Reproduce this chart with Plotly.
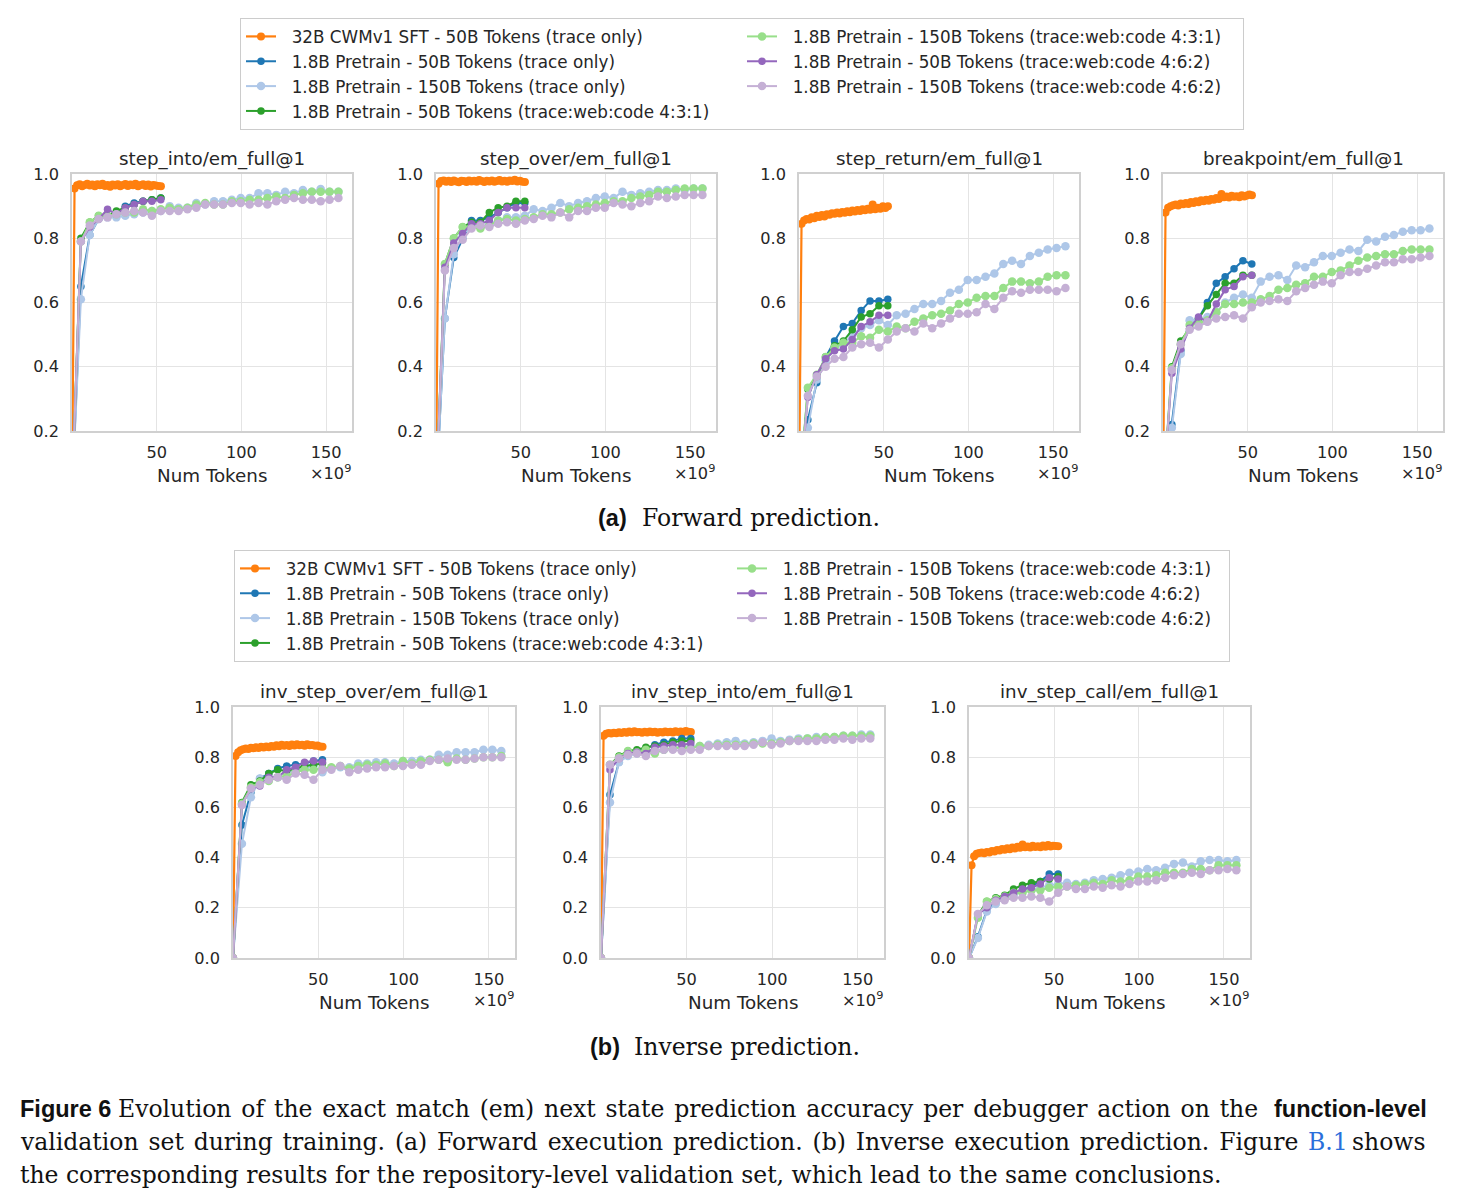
import plotly.graph_objects as go

W, H = 1469, 1204

# ---------------- data ----------------
SERIES_NAMES = [
    "32B CWMv1 SFT - 50B Tokens (trace only)",
    "1.8B Pretrain - 50B Tokens (trace only)",
    "1.8B Pretrain - 150B Tokens (trace only)",
    "1.8B Pretrain - 50B Tokens (trace:web:code 4:3:1)",
    "1.8B Pretrain - 150B Tokens (trace:web:code 4:3:1)",
    "1.8B Pretrain - 50B Tokens (trace:web:code 4:6:2)",
    "1.8B Pretrain - 150B Tokens (trace:web:code 4:6:2)",
]
SERIES_COLORS = ["#ff7f0e", "#1f77b4", "#aec7e8", "#2ca02c", "#98df8a", "#9467bd", "#c5b0d5"]

X_ORANGE = [0, 1.5, 3.0, 4.5, 6.0, 7.5, 9.0, 10.5, 12.0, 13.5, 15.0, 16.5, 18.0, 19.5, 21.0, 22.5,
            24.0, 25.5, 27.0, 28.5, 30.0, 31.5, 33.0, 34.5, 36.0, 37.5, 39.0, 40.5, 42.0, 43.5,
            45.0, 46.5, 48.0, 49.5, 51.0, 52.5]
X_50B = [0, 5.24, 10.49, 15.73, 20.97, 26.21, 31.46, 36.70, 41.94, 47.19, 52.43]
X_150B = [0, 5.24, 10.49, 15.73, 20.97, 26.21, 31.46, 36.70, 41.94, 47.19, 52.43, 57.67, 62.91,
          68.16, 73.40, 78.64, 83.89, 89.13, 94.37, 99.61, 104.86, 110.10, 115.34, 120.59,
          125.83, 131.07, 136.31, 141.56, 146.80, 152.04, 157.29]

# step_into
SI_OR = [0.0, 0.955, 0.965, 0.968, 0.962, 0.966, 0.970, 0.964, 0.967, 0.962, 0.968, 0.965, 0.970, 0.963, 0.966, 0.960,
         0.967, 0.964, 0.968, 0.962, 0.966, 0.969, 0.963, 0.967, 0.965, 0.970, 0.962, 0.966, 0.968, 0.963,
         0.967, 0.961, 0.966, 0.964, 0.963, 0.962]
SI_B50 = [0.0, 0.65, 0.81, 0.86, 0.87, 0.875, 0.90, 0.91, 0.915, 0.92, 0.925]
SI_G50 = [0.0, 0.80, 0.85, 0.87, 0.87, 0.885, 0.895, 0.905, 0.915, 0.92, 0.925]
SI_P50 = [0.0, 0.79, 0.835, 0.86, 0.89, 0.875, 0.895, 0.905, 0.915, 0.915, 0.92]
SI_LB150 = [0.0, 0.61, 0.81, 0.86, 0.865, 0.865, 0.87, 0.875, 0.88, 0.885, 0.885, 0.90, 0.895, 0.895, 0.91, 0.905,
            0.915, 0.915, 0.92, 0.925, 0.925, 0.94, 0.94, 0.935, 0.945, 0.94, 0.95, 0.945, 0.953, 0.945, 0.945]
SI_LG150 = [0.0, 0.79, 0.85, 0.87, 0.87, 0.875, 0.88, 0.88, 0.89, 0.885, 0.89, 0.895, 0.89, 0.895, 0.905, 0.91,
            0.905, 0.905, 0.915, 0.915, 0.92, 0.92, 0.925, 0.93, 0.925, 0.935, 0.94, 0.945, 0.945, 0.945, 0.945]
SI_LP150 = [0.0, 0.79, 0.84, 0.86, 0.865, 0.875, 0.88, 0.885, 0.88, 0.87, 0.885, 0.885, 0.885, 0.89, 0.895, 0.905,
            0.905, 0.905, 0.91, 0.91, 0.905, 0.91, 0.905, 0.915, 0.92, 0.925, 0.92, 0.92, 0.915, 0.92, 0.925]

# step_over
SO_OR = [0.0, 0.970, 0.978, 0.980, 0.976, 0.979, 0.975, 0.980, 0.977, 0.974, 0.979, 0.978, 0.975, 0.980, 0.977, 0.979,
         0.976, 0.981, 0.978, 0.975, 0.979, 0.977, 0.980, 0.976, 0.978, 0.981, 0.977, 0.979, 0.976, 0.980,
         0.978, 0.982, 0.977, 0.979, 0.976, 0.975]
SO_B50 = [0.0, 0.55, 0.74, 0.80, 0.855, 0.855, 0.865, 0.88, 0.895, 0.91, 0.91]
SO_G50 = [0.0, 0.72, 0.80, 0.835, 0.85, 0.85, 0.88, 0.895, 0.90, 0.915, 0.915]
SO_P50 = [0.0, 0.71, 0.785, 0.815, 0.845, 0.845, 0.855, 0.88, 0.895, 0.895, 0.895]
SO_LB150 = [0.0, 0.55, 0.75, 0.81, 0.84, 0.835, 0.845, 0.855, 0.865, 0.865, 0.87, 0.89, 0.885, 0.895, 0.91, 0.90,
            0.91, 0.915, 0.925, 0.93, 0.925, 0.945, 0.935, 0.94, 0.945, 0.95, 0.95, 0.955, 0.95, 0.955, 0.955]
SO_LG150 = [0.0, 0.72, 0.80, 0.835, 0.835, 0.83, 0.84, 0.855, 0.86, 0.855, 0.86, 0.865, 0.875, 0.875, 0.88, 0.89,
            0.895, 0.90, 0.905, 0.91, 0.915, 0.915, 0.925, 0.93, 0.935, 0.945, 0.945, 0.95, 0.955, 0.955, 0.955]
SO_LP150 = [0.0, 0.70, 0.77, 0.795, 0.83, 0.84, 0.835, 0.845, 0.85, 0.845, 0.855, 0.86, 0.87, 0.865, 0.88, 0.865,
            0.885, 0.885, 0.895, 0.895, 0.91, 0.905, 0.90, 0.91, 0.915, 0.93, 0.925, 0.93, 0.935, 0.935, 0.935]

# step_return
SR_OR = [0.0, 0.845, 0.855, 0.860, 0.858, 0.865, 0.862, 0.870, 0.866, 0.872, 0.868, 0.875, 0.873, 0.878, 0.876, 0.880,
         0.877, 0.882, 0.879, 0.884, 0.881, 0.886, 0.883, 0.888, 0.885, 0.890, 0.887, 0.892, 0.889, 0.905,
         0.890, 0.895, 0.892, 0.900, 0.894, 0.900]
SR_B50 = [0.0, 0.235, 0.35, 0.43, 0.48, 0.525, 0.535, 0.575, 0.605, 0.605, 0.61]
SR_G50 = [0.0, 0.33, 0.37, 0.43, 0.465, 0.48, 0.515, 0.555, 0.565, 0.59, 0.59]
SR_P50 = [0.0, 0.305, 0.375, 0.425, 0.45, 0.455, 0.485, 0.525, 0.54, 0.56, 0.56]
SR_LB150 = [0.0, 0.21, 0.36, 0.42, 0.455, 0.47, 0.50, 0.52, 0.53, 0.545, 0.53, 0.56, 0.565, 0.58, 0.595, 0.595,
            0.605, 0.63, 0.64, 0.67, 0.67, 0.68, 0.69, 0.72, 0.73, 0.72, 0.745, 0.755, 0.765, 0.77, 0.775]
SR_LG150 = [0.0, 0.335, 0.375, 0.43, 0.46, 0.475, 0.475, 0.495, 0.49, 0.515, 0.51, 0.525, 0.52, 0.54, 0.55, 0.56,
            0.565, 0.575, 0.595, 0.60, 0.615, 0.62, 0.62, 0.645, 0.665, 0.665, 0.66, 0.665, 0.68, 0.685, 0.685]
SR_LP150 = [0.0, 0.31, 0.37, 0.40, 0.425, 0.43, 0.46, 0.47, 0.475, 0.46, 0.485, 0.51, 0.52, 0.51, 0.535, 0.52,
            0.535, 0.55, 0.565, 0.565, 0.57, 0.595, 0.58, 0.615, 0.635, 0.63, 0.64, 0.64, 0.64, 0.635, 0.645]

# breakpoint
BP_OR = [0.0, 0.880, 0.895, 0.900, 0.903, 0.905, 0.902, 0.908, 0.906, 0.910, 0.907, 0.913, 0.910, 0.915, 0.912, 0.918,
         0.915, 0.920, 0.917, 0.922, 0.920, 0.925, 0.922, 0.938, 0.928, 0.930, 0.927, 0.932, 0.929, 0.931,
         0.928, 0.934, 0.930, 0.933, 0.936, 0.934]
BP_B50 = [0.0, 0.22, 0.45, 0.54, 0.55, 0.60, 0.66, 0.68, 0.705, 0.73, 0.72]
BP_G50 = [0.0, 0.40, 0.48, 0.52, 0.55, 0.59, 0.625, 0.66, 0.66, 0.685, 0.685]
BP_P50 = [0.0, 0.38, 0.455, 0.52, 0.555, 0.54, 0.595, 0.64, 0.65, 0.68, 0.685]
BP_LB150 = [0.0, 0.21, 0.44, 0.545, 0.545, 0.555, 0.57, 0.60, 0.615, 0.625, 0.615, 0.665, 0.68, 0.685, 0.67, 0.715,
            0.71, 0.725, 0.745, 0.745, 0.755, 0.765, 0.76, 0.795, 0.79, 0.805, 0.81, 0.82, 0.825, 0.825, 0.83]
BP_LG150 = [0.0, 0.395, 0.47, 0.53, 0.535, 0.545, 0.57, 0.595, 0.595, 0.60, 0.60, 0.61, 0.62, 0.64, 0.645, 0.655,
            0.66, 0.68, 0.68, 0.695, 0.70, 0.715, 0.73, 0.74, 0.745, 0.75, 0.75, 0.76, 0.765, 0.765, 0.765]
BP_LP150 = [0.0, 0.39, 0.47, 0.515, 0.525, 0.54, 0.55, 0.555, 0.56, 0.55, 0.585, 0.60, 0.605, 0.61, 0.605, 0.635,
            0.645, 0.655, 0.665, 0.66, 0.685, 0.695, 0.695, 0.705, 0.715, 0.725, 0.725, 0.735, 0.735, 0.74, 0.745]

# inv_step_over
IO_OR = [0.0, 0.805, 0.820, 0.828, 0.832, 0.835, 0.833, 0.838, 0.836, 0.840, 0.837, 0.842, 0.839, 0.843, 0.840, 0.845,
         0.842, 0.848, 0.844, 0.850, 0.846, 0.849, 0.845, 0.851, 0.847, 0.852, 0.848, 0.850, 0.846, 0.852,
         0.848, 0.849, 0.846, 0.847, 0.843, 0.842]
IO_B50 = [0.0, 0.53, 0.66, 0.715, 0.735, 0.755, 0.765, 0.77, 0.775, 0.785, 0.79]
IO_G50 = [0.0, 0.62, 0.69, 0.705, 0.735, 0.75, 0.745, 0.755, 0.765, 0.77, 0.775]
IO_P50 = [0.0, 0.61, 0.675, 0.685, 0.72, 0.72, 0.75, 0.76, 0.78, 0.785, 0.78]
IO_LB150 = [0.0, 0.455, 0.64, 0.715, 0.715, 0.72, 0.745, 0.745, 0.755, 0.765, 0.74, 0.755, 0.76, 0.76, 0.775, 0.775,
            0.78, 0.78, 0.775, 0.785, 0.785, 0.79, 0.79, 0.81, 0.81, 0.82, 0.82, 0.82, 0.83, 0.83, 0.825]
IO_LG150 = [0.0, 0.615, 0.68, 0.70, 0.705, 0.72, 0.725, 0.74, 0.75, 0.75, 0.755, 0.76, 0.765, 0.755, 0.765, 0.77,
            0.77, 0.775, 0.765, 0.785, 0.775, 0.785, 0.79, 0.79, 0.78, 0.795, 0.79, 0.795, 0.80, 0.80, 0.805]
IO_LP150 = [0.0, 0.61, 0.675, 0.69, 0.71, 0.72, 0.71, 0.735, 0.73, 0.71, 0.75, 0.75, 0.765, 0.74, 0.75, 0.755,
            0.76, 0.76, 0.765, 0.765, 0.77, 0.77, 0.785, 0.79, 0.795, 0.79, 0.79, 0.795, 0.80, 0.80, 0.80]

# inv_step_into
II_OR = [0.0, 0.885, 0.893, 0.896, 0.894, 0.897, 0.895, 0.899, 0.896, 0.900, 0.897, 0.902, 0.898, 0.903, 0.899, 0.900,
         0.897, 0.901, 0.898, 0.902, 0.899, 0.901, 0.897, 0.900, 0.898, 0.902, 0.899, 0.901, 0.898, 0.903,
         0.900, 0.902, 0.899, 0.904, 0.901, 0.900]
II_B50 = [0.0, 0.65, 0.78, 0.81, 0.825, 0.835, 0.85, 0.86, 0.865, 0.875, 0.875]
II_G50 = [0.0, 0.77, 0.805, 0.825, 0.83, 0.84, 0.845, 0.85, 0.86, 0.865, 0.865]
II_P50 = [0.0, 0.75, 0.795, 0.815, 0.82, 0.815, 0.84, 0.845, 0.85, 0.85, 0.855]
II_LB150 = [0.0, 0.62, 0.78, 0.805, 0.815, 0.825, 0.825, 0.83, 0.835, 0.84, 0.84, 0.845, 0.85, 0.855, 0.86, 0.865,
            0.855, 0.86, 0.865, 0.875, 0.865, 0.87, 0.875, 0.875, 0.88, 0.88, 0.88, 0.885, 0.885, 0.89, 0.89]
II_LG150 = [0.0, 0.77, 0.80, 0.825, 0.82, 0.83, 0.815, 0.83, 0.835, 0.84, 0.835, 0.845, 0.845, 0.85, 0.85, 0.85,
            0.85, 0.855, 0.855, 0.855, 0.86, 0.865, 0.87, 0.875, 0.875, 0.88, 0.88, 0.885, 0.885, 0.885, 0.885]
II_LP150 = [0.0, 0.77, 0.795, 0.81, 0.815, 0.805, 0.825, 0.83, 0.83, 0.825, 0.83, 0.83, 0.845, 0.845, 0.845, 0.845,
            0.845, 0.85, 0.86, 0.85, 0.855, 0.865, 0.865, 0.865, 0.865, 0.87, 0.87, 0.875, 0.87, 0.875, 0.875]

# inv_step_call
IC_OR = [0.0, 0.370, 0.405, 0.415, 0.418, 0.420, 0.417, 0.422, 0.420, 0.426, 0.424, 0.430, 0.428, 0.434, 0.431, 0.437,
         0.433, 0.440, 0.436, 0.443, 0.439, 0.452, 0.441, 0.444, 0.440, 0.447, 0.442, 0.445, 0.441, 0.448,
         0.443, 0.450, 0.444, 0.447, 0.446, 0.445]
IC_B50 = [0.0, 0.085, 0.19, 0.22, 0.24, 0.26, 0.27, 0.285, 0.305, 0.335, 0.335]
IC_G50 = [0.0, 0.17, 0.225, 0.24, 0.25, 0.275, 0.29, 0.30, 0.305, 0.315, 0.325]
IC_P50 = [0.0, 0.175, 0.20, 0.23, 0.245, 0.26, 0.275, 0.28, 0.295, 0.32, 0.315]
IC_LB150 = [0.0, 0.08, 0.185, 0.215, 0.24, 0.25, 0.265, 0.27, 0.28, 0.29, 0.295, 0.30, 0.295, 0.30, 0.31, 0.315,
            0.32, 0.33, 0.34, 0.345, 0.355, 0.35, 0.36, 0.375, 0.38, 0.365, 0.385, 0.39, 0.39, 0.385, 0.39]
IC_LG150 = [0.0, 0.16, 0.225, 0.235, 0.245, 0.26, 0.26, 0.27, 0.27, 0.28, 0.285, 0.285, 0.29, 0.295, 0.30, 0.295,
            0.31, 0.305, 0.31, 0.325, 0.325, 0.33, 0.34, 0.34, 0.34, 0.355, 0.355, 0.35, 0.37, 0.37, 0.37]
IC_LP150 = [0.0, 0.175, 0.21, 0.225, 0.23, 0.24, 0.24, 0.245, 0.24, 0.225, 0.26, 0.285, 0.275, 0.275, 0.285, 0.28,
            0.29, 0.285, 0.295, 0.305, 0.305, 0.31, 0.32, 0.33, 0.335, 0.34, 0.335, 0.35, 0.35, 0.355, 0.35]

PANEL_TITLES = ["step_into/em_full@1", "step_over/em_full@1", "step_return/em_full@1",
                "breakpoint/em_full@1", "inv_step_over/em_full@1", "inv_step_into/em_full@1",
                "inv_step_call/em_full@1"]
PANEL_DATA = [
    [SI_OR, SI_B50, SI_LB150, SI_G50, SI_LG150, SI_P50, SI_LP150],
    [SO_OR, SO_B50, SO_LB150, SO_G50, SO_LG150, SO_P50, SO_LP150],
    [SR_OR, SR_B50, SR_LB150, SR_G50, SR_LG150, SR_P50, SR_LP150],
    [BP_OR, BP_B50, BP_LB150, BP_G50, BP_LG150, BP_P50, BP_LP150],
    [IO_OR, IO_B50, IO_LB150, IO_G50, IO_LG150, IO_P50, IO_LP150],
    [II_OR, II_B50, II_LB150, II_G50, II_LG150, II_P50, II_LP150],
    [IC_OR, IC_B50, IC_LB150, IC_G50, IC_LG150, IC_P50, IC_LP150],
]
SERIES_X = [X_ORANGE, X_50B, X_150B, X_50B, X_150B, X_50B, X_150B]
LEGEND_RANK = [1, 3, 5, 7, 2, 4, 6]   # row-major order giving two columns
X_TICKS = [50, 100, 150]
Y_TICKS_TOP = [0.2, 0.4, 0.6, 0.8, 1.0]
Y_TICKS_BOTTOM = [0.0, 0.2, 0.4, 0.6, 0.8, 1.0]

# ---------------- layout geometry (pixels) ----------------
PANELS_PX = [  # left, right, top, bottom
    (72, 352, 174, 431), (436, 716, 174, 431), (799, 1079, 174, 431), (1163, 1443, 174, 431),
    (233, 515, 707, 958), (601, 884, 707, 958), (969, 1250, 707, 958),
]

TXT = "#262626"
GRID = "#e4e4e4"
SPINE = "#d0d0d0"
SANS = "DejaVu Sans"

fig = go.Figure()
annotations = []
layout_axes = {}


def px_x(p):
    return p / W


def px_y(p):
    return 1 - p / H


for i, (title, series) in enumerate(zip(PANEL_TITLES, PANEL_DATA)):
    n = i + 1
    l, r, t, b = PANELS_PX[i]
    top_row = i < 4
    xa = "x" if n == 1 else f"x{n}"
    ya = "y" if n == 1 else f"y{n}"
    for s, ys in enumerate(series):
        xs = SERIES_X[s][:len(ys)]
        light = s in (2, 4, 6)
        msize = 8 if s == 0 else (8.5 if light else 7.5)
        fig.add_trace(go.Scatter(
            x=xs, y=ys, xaxis=xa, yaxis=ya, mode="lines+markers",
            name="\u00a0\u00a0" + SERIES_NAMES[s],
            line=dict(color=SERIES_COLORS[s], width=2.2 if s == 0 else 2),
            marker=dict(color=SERIES_COLORS[s], size=msize, symbol="circle"),
            showlegend=(i == 0 or i == 4),
            legend="legend" if top_row else "legend2",
            legendrank=LEGEND_RANK[s],
        ))
    axis_common = dict(showgrid=True, gridcolor=GRID, gridwidth=1, zeroline=False,
                       showline=True, mirror=True, linecolor=SPINE, linewidth=1.5,
                       ticks="", automargin=False,
                       tickfont=dict(family=SANS, size=16.2, color=TXT))
    layout_axes["xaxis" if n == 1 else f"xaxis{n}"] = dict(
        domain=[px_x(l), px_x(r)], anchor=ya, range=[0, 165.3],
        tickmode="array", tickvals=X_TICKS, ticklabelstandoff=6, **axis_common)
    layout_axes["yaxis" if n == 1 else f"yaxis{n}"] = dict(
        domain=[px_y(b), px_y(t)], anchor=xa,
        range=[0.2, 1.0] if top_row else [0.0, 1.0],
        tickmode="array", tickvals=Y_TICKS_TOP if top_row else Y_TICKS_BOTTOM,
        tickformat=".1f", ticklabelstandoff=8, **axis_common)
    cx = (l + r) / 2
    annotations.append(dict(text=title, x=px_x(cx), y=px_y(t - 15), xref="paper", yref="paper",
                            xanchor="center", yanchor="middle", showarrow=False,
                            font=dict(family=SANS, size=18.3, color=TXT)))
    annotations.append(dict(text="Num Tokens", x=px_x(cx), y=px_y(b + 44), xref="paper", yref="paper",
                            xanchor="center", yanchor="middle", showarrow=False,
                            font=dict(family=SANS, size=18.3, color=TXT)))
    annotations.append(dict(text="×10<sup>9</sup>", x=px_x(r + 1), y=px_y(b + 41), xref="paper",
                            yref="paper", xanchor="right", yanchor="middle", showarrow=False,
                            font=dict(family=SANS, size=16.2, color=TXT)))

# ---------------- captions ----------------
SERIF = "DejaVu Serif"
BOLD = "Liberation Sans"
INK = "#111111"
CAP = 23.5
BCAP = 23.5


def justify(s):
    # widen inter-word gaps slightly, like the justified caption lines
    return s.replace(" ", " \u200a")


def text(s, xp, yp, anchor="left", family=SERIF, size=CAP, color=INK, bold=False):
    if bold:
        s = f"<b>{s}</b>"
    annotations.append(dict(text=s, x=px_x(xp), y=px_y(yp), xref="paper", yref="paper",
                            xanchor=anchor, yanchor="middle", showarrow=False,
                            font=dict(family=family, size=size, color=color)))


text("(a)", 596, 518, family=BOLD, size=BCAP, bold=True)
text("Forward prediction.", 640, 518)
text("(b)", 588, 1047, family=BOLD, size=BCAP, bold=True)
text("Inverse prediction.", 632, 1047)

text("Figure 6", 18, 1109, family=BOLD, size=BCAP, bold=True)
text(justify("Evolution of the exact match (em) next state prediction accuracy per debugger action on the"),
     116, 1109)
text("function-level", 1429, 1109, anchor="right", family=BOLD, size=BCAP, bold=True)

text(justify("validation set during training. (a) Forward execution prediction. (b) Inverse execution "
             "prediction. Figure"), 18, 1142)
text("B.1", 1306, 1142, color="#2a6fdb")
text("shows", 1428, 1142, anchor="right")

text("the corresponding results for the repository-level validation set, which lead to the same conclusions.",
     18, 1175)

legend_common = dict(orientation="h", xanchor="left", yanchor="top",
                     entrywidthmode="pixels", bgcolor="white", bordercolor="#cccccc", borderwidth=1,
                     font=dict(family=SANS, size=16.8, color=TXT), traceorder="normal",
                     itemclick=False, itemdoubleclick=False)

fig.update_layout(
    width=W, height=H, margin=dict(l=0, r=0, t=0, b=0, autoexpand=False),
    paper_bgcolor="white", plot_bgcolor="white",
    font=dict(family=SANS, color=TXT),
    showlegend=True,
    legend=dict(x=px_x(240), y=px_y(18), entrywidth=456, **legend_common),
    legend2=dict(x=px_x(234), y=px_y(550), entrywidth=452, **legend_common),
    annotations=annotations,
    **layout_axes,
)

fig.write_html("out.html", config={"displayModeBar": False})
